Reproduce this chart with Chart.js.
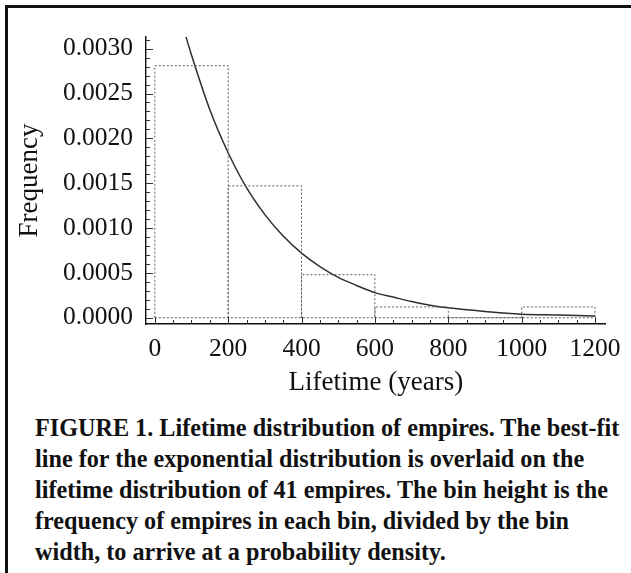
<!DOCTYPE html>
<html>
<head>
<meta charset="utf-8">
<script src="https://cdn.jsdelivr.net/npm/chart.js@4.4.0/dist/chart.umd.min.js"></script>
<style>
  html, body { margin: 0; padding: 0; background: #fff; overflow: hidden; }
  body { width: 631px; height: 573px; position: relative; }
  #frame { position: absolute; left: 5px; top: 5px; width: 700px; height: 700px;
           border-top: 3px solid #111; border-left: 3px solid #111; }
  #wrap { position: absolute; left: 0; top: 0; width: 631px; height: 400px; }
  #caption { position: absolute; left: 35px; top: 412px; width: 600px; white-space: nowrap;
             font: bold 24.2px "Liberation Serif", "DejaVu Serif", serif;
             line-height: 31px; color: #111; }
</style>
</head>
<body>
<div id="frame"></div>
<div id="wrap"><canvas id="chart" width="631" height="400"></canvas></div>
<div id="caption">FIGURE 1. Lifetime distribution of empires. The best-fit<br>line for the exponential distribution is overlaid on the<br>lifetime distribution of 41 empires. The bin height is the<br>frequency of empires in each bin, divided by the bin<br>width, to arrive at a probability density.</div>
<script>
// histogram bins (years) and heights (density)
const binEdges = [0, 200, 400, 600, 800, 1000, 1200];
const binHeights = [0.00281, 0.00147, 0.00048, 0.00012, 0, 0.00012];

// best-fit exponential curve
const fitX = [80, 100, 150, 200, 250, 300, 350, 400, 450, 500, 550, 600, 650, 700, 750, 800, 900, 1000, 1100, 1200];
const fitY = [0.00320, 0.00293, 0.00232, 0.00184, 0.00145, 0.00115, 0.00091, 0.00072, 0.00057, 0.00045,
              0.00036, 0.00028, 0.00023, 0.00018, 0.00014, 0.00011, 0.00007, 0.00004, 0.00003, 0.00002];

const xTicks = [0, 200, 400, 600, 800, 1000, 1200];
const yTicks = [0, 0.0005, 0.0010, 0.0015, 0.0020, 0.0025, 0.0030];

const histPoints = [];
binHeights.forEach((h, i) => {
    histPoints.push({x: binEdges[i], y: 0}, {x: binEdges[i], y: h},
                    {x: binEdges[i + 1], y: h}, {x: binEdges[i + 1], y: 0}, {x: binEdges[i + 1], y: null});
});
histPoints.push({x: 0, y: 0}, {x: 1200, y: 0});

const fitPoints = fitX.map((x, i) => ({x: x, y: fitY[i]}));

// inward tick marks, major and minor
const innerTicks = {
    id: 'innerTicks',
    afterDatasetsDraw(chart) {
        const {ctx, chartArea, scales: {x, y}} = chart;
        ctx.save();
        ctx.strokeStyle = '#333';
        ctx.lineWidth = 1;
        ctx.beginPath();
        for (let v = 0; v <= 1200; v += 50) {
            const px = Math.round(x.getPixelForValue(v)) + 0.5;
            const len = v % 200 === 0 ? 7 : 4;
            ctx.moveTo(px, chartArea.bottom);
            ctx.lineTo(px, chartArea.bottom - len);
        }
        for (let k = 0; k <= 31; k++) {
            const py = Math.round(y.getPixelForValue(k * 0.0001)) + 0.5;
            const len = k % 5 === 0 ? 7 : 4;
            ctx.moveTo(chartArea.left, py);
            ctx.lineTo(chartArea.left + len, py);
        }
        ctx.stroke();
        ctx.restore();
    }
};

const serif = '"Liberation Serif", "DejaVu Serif", serif';

new Chart(document.getElementById('chart').getContext('2d'), {
    type: 'scatter',
    data: {
        datasets: [
            {
                data: histPoints,
                showLine: true,
                spanGaps: false,
                borderColor: '#5e5e5e',
                borderWidth: 1,
                borderDash: [2, 2],
                pointRadius: 0,
                tension: 0
            },
            {
                data: fitPoints,
                showLine: true,
                borderColor: '#2e2e2e',
                borderWidth: 1.5,
                pointRadius: 0,
                cubicInterpolationMode: 'monotone'
            }
        ]
    },
    options: {
        responsive: false,
        animation: false,
        layout: { padding: { top: 37, right: 21, bottom: 0, left: 0 } },
        plugins: { legend: { display: false }, tooltip: { enabled: false } },
        scales: {
            x: {
                type: 'linear',
                min: -24,
                max: 1229,
                afterBuildTicks: (scale) => { scale.ticks = xTicks.map(v => ({value: v})); },
                afterFit: (scale) => { scale.height = 76; },
                grid: { display: false, drawTicks: false },
                border: { display: true, color: '#111', width: 1.4 },
                ticks: {
                    padding: 10,
                    color: '#111',
                    font: { family: serif, size: 25.5 },
                    maxRotation: 0,
                    callback: (v) => String(v)
                },
                title: {
                    display: true,
                    text: 'Lifetime (years)',
                    color: '#111',
                    font: { family: serif, size: 27 },
                    padding: { top: 0, bottom: 1 }
                }
            },
            y: {
                type: 'linear',
                min: -0.00007,
                max: 0.00313,
                afterBuildTicks: (scale) => { scale.ticks = yTicks.map(v => ({value: v})); },
                afterFit: (scale) => { scale.width = 146; },
                grid: { display: false, drawTicks: false },
                border: { display: true, color: '#111', width: 1.4 },
                ticks: {
                    padding: 13,
                    color: '#111',
                    font: { family: serif, size: 25.5 },
                    callback: (v) => v.toFixed(4)
                },
                title: {
                    display: true,
                    text: 'Frequency',
                    color: '#111',
                    font: { family: serif, size: 27 },
                    padding: { top: 14, bottom: 0 }
                }
            }
        }
    },
    plugins: [innerTicks]
});
</script>
</body>
</html>
